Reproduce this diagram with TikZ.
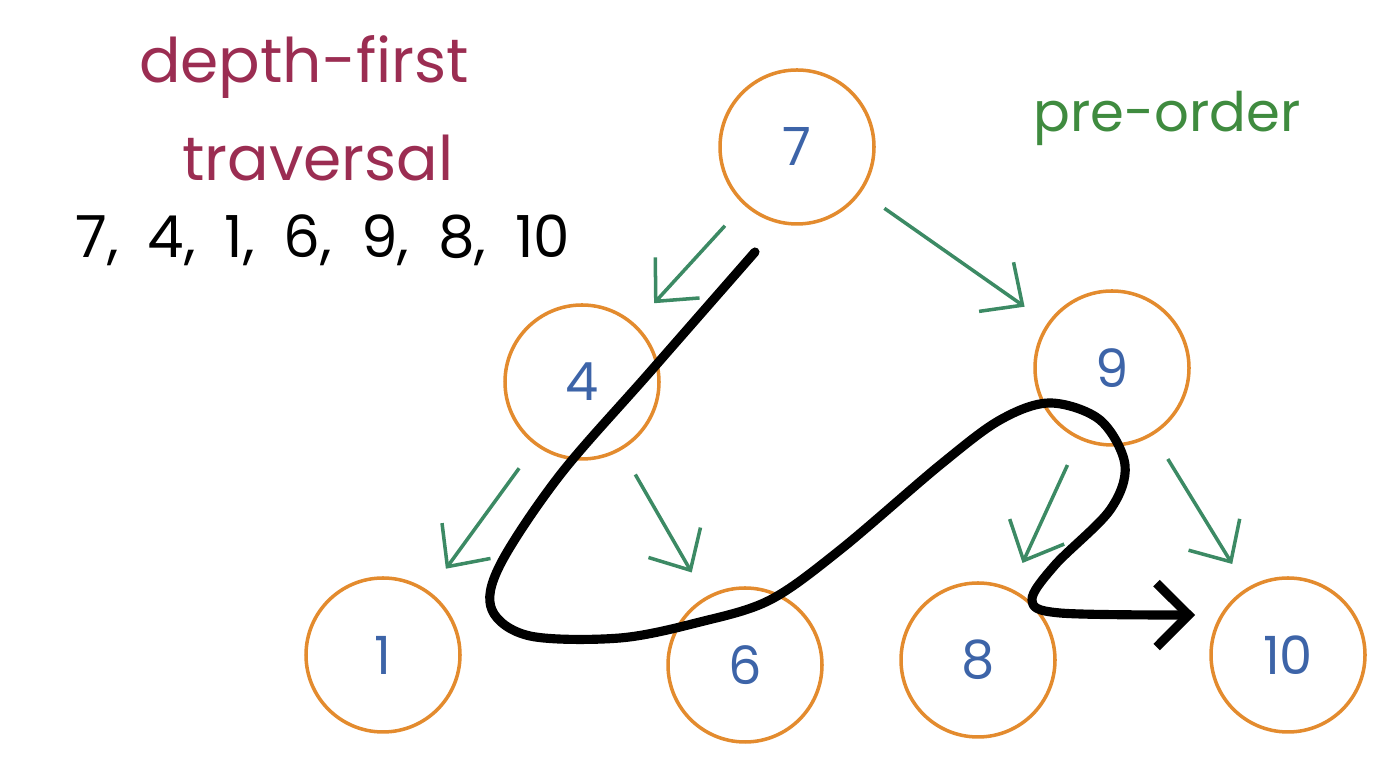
\documentclass[tikz,border=0pt]{standalone}
\usepackage{fontspec}
\setmainfont{Poppins}
\usepackage{tikz}
\usetikzlibrary{arrows.meta, positioning}
\usepackage{xcolor}
\definecolor{ringorange}{HTML}{E38B2E}
\definecolor{keyblue}{HTML}{3D64A8}
\definecolor{edgegreen}{HTML}{3C8A64}
\definecolor{titlered}{HTML}{9B2D52}
\definecolor{ordergreen}{HTML}{3F8B3F}

\begin{document}
\begin{tikzpicture}[
    key/.style={circle, draw=ringorange, line width=1pt, minimum size=1.54cm, inner sep=0pt, text=keyblue, font=\fontsize{15}{15}\selectfont},
    child/.style={-{Straight Barb[length=3.2mm, width=6mm]}, draw=edgegreen, line width=1pt, shorten <=2.8mm, shorten >=2.8mm},
    trail/.style={-{Straight Barb[length=3.2mm, width=6.4mm]}, line width=2.6pt, line cap=round, line join=round},
    title/.style={text=titlered, font=\fontsize{17.5}{17.5}\selectfont},
]
    \useasboundingbox (0,0) rectangle (14,7.8);
    \node[key] (n7) at (7.97,6.33) {7};
    \node[key] (n4) at (5.82,3.98) {4};
    \node[key] (n9) at (11.12,4.12) {9};
    \node[key] (n1) at (3.83,1.25) {1};
    \node[key] (n6) at (7.45,1.15) {6};
    \node[key] (n8) at (9.78,1.20) {8};
    \node[key] (n10) at (12.88,1.25) {10};
    \draw[child] (n7) -- (n4);
    \draw[child] (n7) -- (n9);
    \draw[child] (n4) -- (n1);
    \draw[child] (n4) -- (n6);
    \draw[child] (n9) -- (n8);
    \draw[child] (n9) -- (n10);
    \node[title] (head) at (3.04,7.13) {depth-first};
    \node[title] (tail) at (3.18,6.22) {traversal};
    \node[font=\fontsize{16.5}{16.5}\selectfont] (order) at (3.23,5.4) {7,\enspace 4,\enspace 1,\enspace 6,\enspace 9,\enspace 8,\enspace 10};
    \node[text=ordergreen, font=\fontsize{15.5}{15.5}\selectfont] (kind) at (11.67,6.62) {pre-order};
    \coordinate (start) at (7.55,5.28);
    \coordinate (finish) at (11.95,1.65);
    \draw[trail] plot[smooth, tension=0.55] coordinates {(start) (6.50,4.08) (5.60,3.05) (5.00,2.15) (4.92,1.70) (5.30,1.44) (6.20,1.42) (7.00,1.58) (7.70,1.80) (8.40,2.30) (9.40,3.15) (10.00,3.60) (10.50,3.77) (11.00,3.60) (11.25,3.15) (11.10,2.70) (10.55,2.15) (10.32,1.80) (10.60,1.67) (finish)};
\end{tikzpicture}
\end{document}
